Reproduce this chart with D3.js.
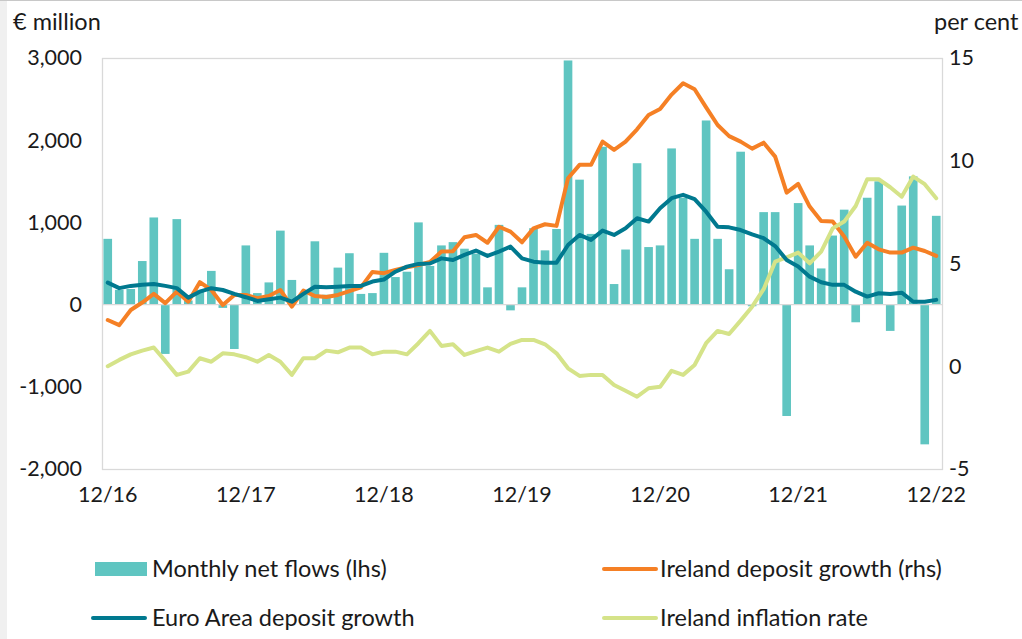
<!DOCTYPE html>
<html>
<head>
<meta charset="utf-8">
<script src="https://cdn.jsdelivr.net/npm/d3@7"></script>
<style>
  body { margin: 0; background: #fff; }
  svg { display: block; font-family: Lato, "Open Sans", sans-serif; }
</style>
</head>
<body>
<svg id="chart" width="1022" height="639"></svg>
<script>
// months Dec 2016 .. Dec 2022
var months = d3.timeMonth.range(new Date(2016, 11, 1), new Date(2023, 0, 1));
var tickLabels = ["12/16", "12/17", "12/18", "12/19", "12/20", "12/21", "12/22"];
var leftTicks = [-2000, -1000, 0, 1000, 2000, 3000];
var rightTicks = [-5, 0, 5, 10, 15];

// monthly net flows, € million (lhs)
var netFlows = [800, 180, 190, 530, 1060, -600, 1040, 50, 180, 410, -40, -540,
  720, 140, 270, 900, 300, 130, 770, 120, 450, 625, 130, 140,
  630, 335, 400, 1000, 470, 720, 760, 680, 620, 210, 970, -70,
  210, 930, 660, 920, 2970, 1520, 860, 1920, 250, 670, 1720, 700,
  720, 1900, 1300, 800, 2240, 800, 430, 1860, -20, 1125, 1125, -1355,
  1235, 720, 440, 840, 1155, -215, 1300, 1500, -320, 1205, 1560, -1700,
  1080];

// per cent (rhs)
var irelandDeposit = [2.25, 2.0, 2.74, 3.1, 3.52, 3.07, 3.63, 3.14, 4.09, 3.71, 2.98, 3.47,
  3.47, 3.31, 3.42, 3.71, 2.9, 3.68, 3.42, 3.37, 3.47, 3.66, 3.84, 4.59,
  4.53, 4.69, 4.82, 4.93, 5.07, 5.58, 5.6, 6.28, 6.39, 6.01, 6.79, 6.55,
  6.03, 6.71, 6.91, 6.83, 9.15, 9.8, 9.8, 10.93, 10.53, 10.93, 11.53, 12.23,
  12.52, 13.22, 13.77, 13.48, 12.6, 11.74, 11.2, 10.93, 10.59, 10.88, 10.2, 8.45,
  8.87, 7.77, 7.07, 7.04, 6.31, 5.33, 6.01, 5.69, 5.53, 5.53, 5.77, 5.61,
  5.37];

var euroDeposit = [4.07, 3.8, 3.91, 3.97, 4.0, 3.91, 3.8, 3.34, 3.63, 3.8, 3.71, 3.52,
  3.36, 3.18, 3.26, 3.34, 3.14, 3.52, 3.87, 3.84, 3.87, 3.91, 3.91, 4.12,
  4.22, 4.6, 4.85, 4.98, 5.0, 5.25, 5.17, 5.42, 5.63, 5.37, 5.58, 5.82,
  5.25, 5.09, 5.04, 5.04, 5.9, 6.39, 6.15, 6.6, 6.39, 6.71, 7.2, 7.04,
  7.69, 8.18, 8.34, 8.13, 7.52, 6.79, 6.76, 6.63, 6.42, 6.23, 5.85, 5.17,
  4.85, 4.36, 4.09, 3.96, 3.96, 3.63, 3.39, 3.55, 3.52, 3.58, 3.14, 3.14,
  3.23];

var irelandInflation = [0.0, 0.31, 0.58, 0.76, 0.91, 0.26, -0.42, -0.26, 0.39, 0.22, 0.63, 0.58,
  0.44, 0.22, 0.55, 0.22, -0.42, 0.39, 0.39, 0.76, 0.68, 0.91, 0.91, 0.58,
  0.71, 0.71, 0.58, 1.12, 1.72, 0.99, 1.07, 0.55, 0.74, 0.91, 0.71, 1.09,
  1.28, 1.28, 1.07, 0.63, -0.1, -0.47, -0.42, -0.42, -0.91, -1.19, -1.48, -1.07,
  -1.0, -0.22, -0.42, 0.06, 1.12, 1.72, 1.57, 2.22, 2.9, 3.75, 5.09, 5.3,
  5.53, 5.01, 5.58, 6.71, 7.04, 7.8, 9.1, 9.1, 8.71, 8.25, 9.23, 8.86,
  8.18];

var cTeal = "#5fc5c1", cOrange = "#f58025", cBlue = "#00798f", cGreen = "#d5e389";

var plot = {left: 102, right: 942, top: 58, bottom: 469};
var svg = d3.select("#chart");

// frame of the page
svg.append("rect").attr("x", 0).attr("y", 0).attr("width", 7).attr("height", 639).attr("fill", "#f0f0f0");
svg.append("line").attr("x1", 0).attr("x2", 1022).attr("y1", 0.5).attr("y2", 0.5).attr("stroke", "#c8c8c8");

var keys = months.map(function (d) { return d3.timeFormat("%m/%y")(d); });

var x = d3.scaleBand()
    .domain(keys)
    .range([plot.left, plot.right])
    .paddingInner(0.25)
    .paddingOuter(0.125);

var yL = d3.scaleLinear().domain([-2000, 3000]).range([plot.bottom, plot.top]);
var yR = d3.scaleLinear().domain([-5, 15]).range([plot.bottom, plot.top]);

// plot border
svg.append("rect")
    .attr("x", plot.left + 0.5).attr("y", plot.top + 0.5)
    .attr("width", plot.right - plot.left).attr("height", plot.bottom - plot.top)
    .attr("fill", "none").attr("stroke", "#d9d9d9").attr("stroke-width", 1.3);

// bars
svg.selectAll(".bar")
    .data(netFlows)
    .enter().append("rect")
    .attr("class", "bar")
    .attr("x", function (d, i) { return x(keys[i]); })
    .attr("y", function (d) { return d >= 0 ? yL(d) : yL(0); })
    .attr("width", x.bandwidth())
    .attr("height", function (d) { return Math.abs(yL(d) - yL(0)); })
    .attr("fill", cTeal);

// zero line
svg.append("line")
    .attr("x1", plot.left).attr("x2", plot.right)
    .attr("y1", yL(0)).attr("y2", yL(0))
    .attr("stroke", "#d9d9d9").attr("stroke-width", 1.3);

var line = d3.line()
    .x(function (d, i) { return x(keys[i]) + x.bandwidth() / 2; })
    .y(function (d) { return yR(d); });

[[irelandDeposit, cOrange], [irelandInflation, cGreen], [euroDeposit, cBlue]].forEach(function (s) {
    svg.append("path")
        .datum(s[0])
        .attr("d", line)
        .attr("fill", "none")
        .attr("stroke", s[1])
        .attr("stroke-width", 4)
        .attr("stroke-linejoin", "round")
        .attr("stroke-linecap", "round");
});

var minusFix = function (f) { return function (d) { return f(d).replace("\u2212", "-"); }; };

// left axis
var gL = svg.append("g")
    .attr("transform", "translate(82,0)")
    .call(d3.axisLeft(yL).tickValues(leftTicks).tickSize(0).tickPadding(0)
        .tickFormat(minusFix(d3.format(","))));
gL.select(".domain").remove();
gL.selectAll("text").attr("font-size", 21.5).attr("fill", "#1a1a1a").attr("font-family", "Lato");

// right axis
var gR = svg.append("g")
    .attr("transform", "translate(949,0)")
    .call(d3.axisRight(yR).tickValues(rightTicks).tickSize(0).tickPadding(0)
        .tickFormat(minusFix(d3.format("d"))));
gR.select(".domain").remove();
gR.selectAll("text").attr("font-size", 21.5).attr("fill", "#1a1a1a").attr("font-family", "Lato");

// bottom axis
var tickKeys = keys.filter(function (k) { return k.slice(0, 2) === "12"; });
var gB = svg.append("g")
    .attr("transform", "translate(0," + plot.bottom + ")")
    .call(d3.axisBottom(x).tickValues(tickKeys).tickSize(0).tickPadding(18)
        .tickFormat(function (d, i) { return tickLabels[i]; }));
gB.select(".domain").remove();
gB.selectAll("text").attr("font-size", 21.5).attr("fill", "#1a1a1a").attr("font-family", "Lato");

// axis titles
svg.append("text").attr("x", 13).attr("y", 30).attr("font-size", 23.5).attr("fill", "#1a1a1a").text("\u20ac million");
svg.append("text").attr("x", 934).attr("y", 30).attr("font-size", 23.5).attr("fill", "#1a1a1a").text("per cent");

// legend
var legend = [
    {name: "Monthly net flows (lhs)", color: cTeal, type: "rect", x: 95, y: 569},
    {name: "Ireland deposit growth (rhs)", color: cOrange, type: "line", x: 604, y: 569},
    {name: "Euro Area deposit growth", color: cBlue, type: "line", x: 93, y: 618},
    {name: "Ireland inflation rate", color: cGreen, type: "line", x: 604, y: 618}
];
legend.forEach(function (l) {
    if (l.type === "rect") {
        svg.append("rect").attr("x", l.x).attr("y", l.y - 7).attr("width", 52).attr("height", 14).attr("fill", l.color);
    } else {
        svg.append("line").attr("x1", l.x).attr("x2", l.x + 52).attr("y1", l.y).attr("y2", l.y)
            .attr("stroke", l.color).attr("stroke-width", 4).attr("stroke-linecap", "round");
    }
    svg.append("text").attr("x", 152 + (l.x > 300 ? 508 : 0)).attr("y", l.y).attr("dy", "0.35em")
        .attr("font-size", 23.5).attr("fill", "#1a1a1a").text(l.name);
});
</script>
</body>
</html>
